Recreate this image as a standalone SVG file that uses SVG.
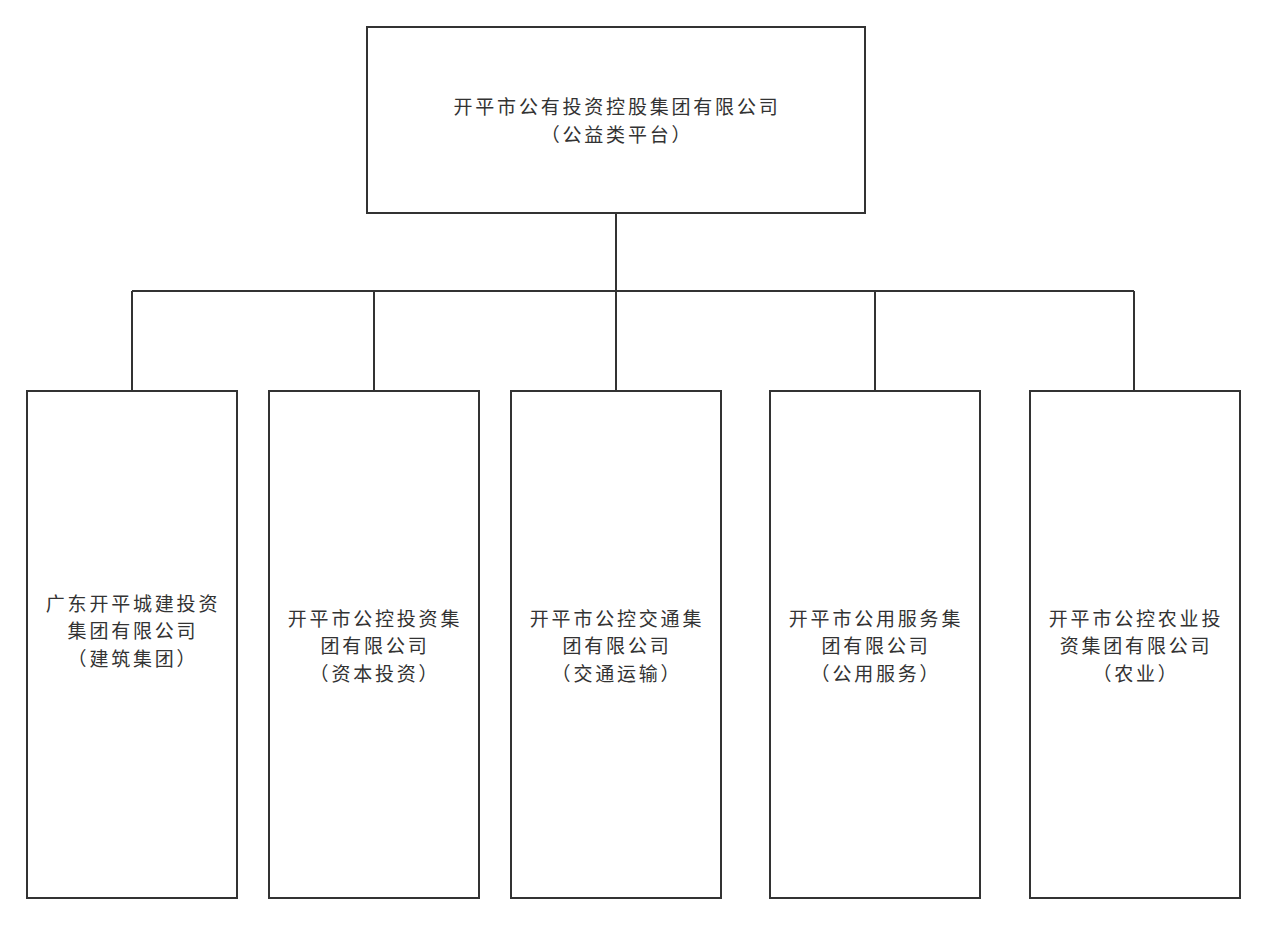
<svg xmlns="http://www.w3.org/2000/svg" width="1267" height="926" viewBox="0 0 1267 926">
<style>
.box{fill:#fff;stroke:#333;stroke-width:2}
.ln{fill:none;stroke:#333;stroke-width:2}
text{font-family:"Noto Sans CJK SC","Noto Sans CJK JP",sans-serif;font-size:19px;fill:#333;text-anchor:middle;letter-spacing:2.8px}
</style>
<rect width="1267" height="926" fill="#fff"/>
<g id="connectors">
<path class="ln" d="M616 213V291M132 291H1134M132 291V391M374 291V391M616 291V391M875 291V391M1134 291V391"/>
</g>
<g id="root">
<rect class="box" x="367" y="27" width="498" height="186"/>
<text x="617" y="113.5">开平市公有投资控股集团有限公司<tspan x="617" y="141.5">（公益类平台）</tspan></text>
</g>
<g id="n1">
<rect class="box" x="27" y="391" width="210" height="507"/>
<text x="133" y="610.5">广东开平城建投资<tspan x="133" y="638">集团有限公司</tspan><tspan x="133" y="665.5">（建筑集团）</tspan></text>
</g>
<g id="n2">
<rect class="box" x="269" y="391" width="210" height="507"/>
<text x="375" y="625.5">开平市公控投资集<tspan x="375" y="653">团有限公司</tspan><tspan x="375" y="680.5">（资本投资）</tspan></text>
</g>
<g id="n3">
<rect class="box" x="511" y="391" width="210" height="507"/>
<text x="617" y="625.5">开平市公控交通集<tspan x="617" y="653">团有限公司</tspan><tspan x="617" y="680.5">（交通运输）</tspan></text>
</g>
<g id="n4">
<rect class="box" x="770" y="391" width="210" height="507"/>
<text x="876" y="625.5">开平市公用服务集<tspan x="876" y="653">团有限公司</tspan><tspan x="876" y="680.5">（公用服务）</tspan></text>
</g>
<g id="n5">
<rect class="box" x="1030" y="391" width="210" height="507"/>
<text x="1136" y="625.5">开平市公控农业投<tspan x="1136" y="653">资集团有限公司</tspan><tspan x="1136" y="680.5">（农业）</tspan></text>
</g>
</svg>
